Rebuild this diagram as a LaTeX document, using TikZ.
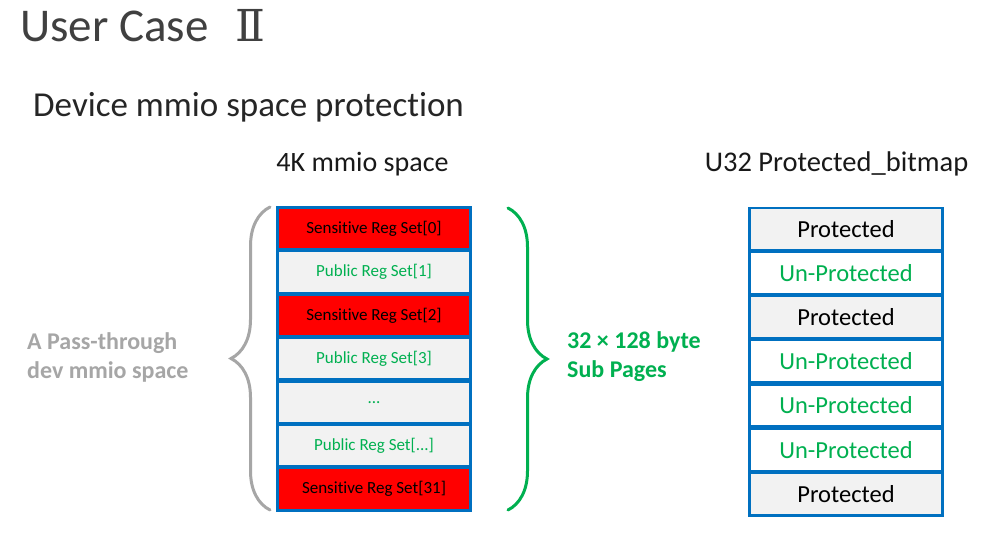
\documentclass[tikz,border=0pt]{standalone}
\usepackage{fontspec}
\setmainfont{Carlito}[Ligatures=NoCommon]
\newfontfamily\romanfont{DejaVu Serif}
\usetikzlibrary{positioning,decorations.pathreplacing}

\definecolor{cellblue}{HTML}{0070C0}
\definecolor{regred}{HTML}{FF0000}
\definecolor{reggray}{HTML}{F2F2F2}
\definecolor{pubgreen}{HTML}{00B050}
\definecolor{bracegray}{HTML}{A6A6A6}
\definecolor{titlegray}{HTML}{404040}

\tikzset{
  cell/.style={draw=cellblue, line width=2.4pt, minimum width=192pt, inner sep=0pt},
  regcell/.style={cell, minimum height=41.6pt, font=\fontsize{17}{20}\selectfont},
  sensitive/.style={regcell, fill=regred, text=black},
  public/.style={regcell, fill=reggray, text=pubgreen},
  bitcell/.style={cell, minimum height=42.3pt, font=\fontsize{24.5}{28}\selectfont},
  prot/.style={bitcell, fill=reggray, text=black},
  unprot/.style={bitcell, fill=white, text=pubgreen},
  column/.style={fill=cellblue},
  brace/.style={decorate, decoration={brace, amplitude=39pt}, line width=3pt, line cap=round}
}

\begin{document}
\begin{tikzpicture}[x=1pt, y=-1pt]
	\useasboundingbox[fill=white] (0,0) rectangle (997,553);

	% headings
	\node[anchor=base west, inner sep=0pt, text=titlegray, font=\fontsize{47}{52}\selectfont] (title) at (20,42) {User Case};
	\node[anchor=base west, inner sep=0pt, text=titlegray, font=\romanfont\fontsize{44}{50}\selectfont] (titlenum) at (235,42) {Ⅱ};
	\node[anchor=base west, inner sep=0pt, text=black!85, font=\fontsize{35}{40}\selectfont] (sub) at (33,117) {Device mmio space protection};
	\node[anchor=base, inner sep=0pt, text=black!90, font=\fontsize{28}{32}\selectfont] (mmiohead) at (362.5,172) {4K mmio space};
	\node[anchor=base, inner sep=0pt, text=black!90, font=\fontsize{28.5}{32}\selectfont] (bitmaphead) at (836.5,172) {U32 Protected\_bitmap};

	% blue frames behind the cells
	\fill[column] (276,206) rectangle (472,512);
	\fill[column] (748,207) rectangle (944,517);

	% 4K mmio space
	\node[sensitive] (r0) at (374,228.7) {Sensitive Reg Set[0]};
	\node[public]    (r1) at (374,272.1) {Public Reg Set[1]};
	\node[sensitive] (r2) at (374,315.5) {Sensitive Reg Set[2]};
	\node[public]    (r3) at (374,358.9) {Public Reg Set[3]};
	\node[public]    (r4) at (374,402.3) {...};
	\node[public]    (r5) at (374,445.7) {Public Reg Set[...]};
	\node[sensitive] (r6) at (374,489.1) {Sensitive Reg Set[31]};

	% protected bitmap
	\node[prot]   (b0) at (846,229.1) {Protected};
	\node[unprot] (b1) at (846,273.2) {Un-Protected};
	\node[prot]   (b2) at (846,317.3) {Protected};
	\node[unprot] (b3) at (846,361.4) {Un-Protected};
	\node[unprot] (b4) at (846,405.5) {Un-Protected};
	\node[unprot] (b5) at (846,449.6) {Un-Protected};
	\node[prot]   (b6) at (846,493.7) {Protected};

	% braces
	\coordinate (lbtop) at (270,207);
	\coordinate (lbbot) at (270,510);
	\coordinate (rbtop) at (508,208);
	\coordinate (rbbot) at (508,510);
	\draw[brace, bracegray] (lbbot) -- (lbtop);
	\draw[brace, pubgreen] (rbtop) -- (rbbot);

	% brace labels
	\node[anchor=base west, align=left, inner sep=0pt, text=bracegray, font=\bfseries\fontsize{24}{29}\selectfont] (passlabel) at (27,379) {A Pass-through\\dev mmio space};
	\node[anchor=base west, align=left, inner sep=0pt, text=pubgreen, font=\bfseries\fontsize{24}{29}\selectfont] (sublabel) at (567,378) {32 × 128 byte\\Sub Pages};
\end{tikzpicture}
\end{document}
